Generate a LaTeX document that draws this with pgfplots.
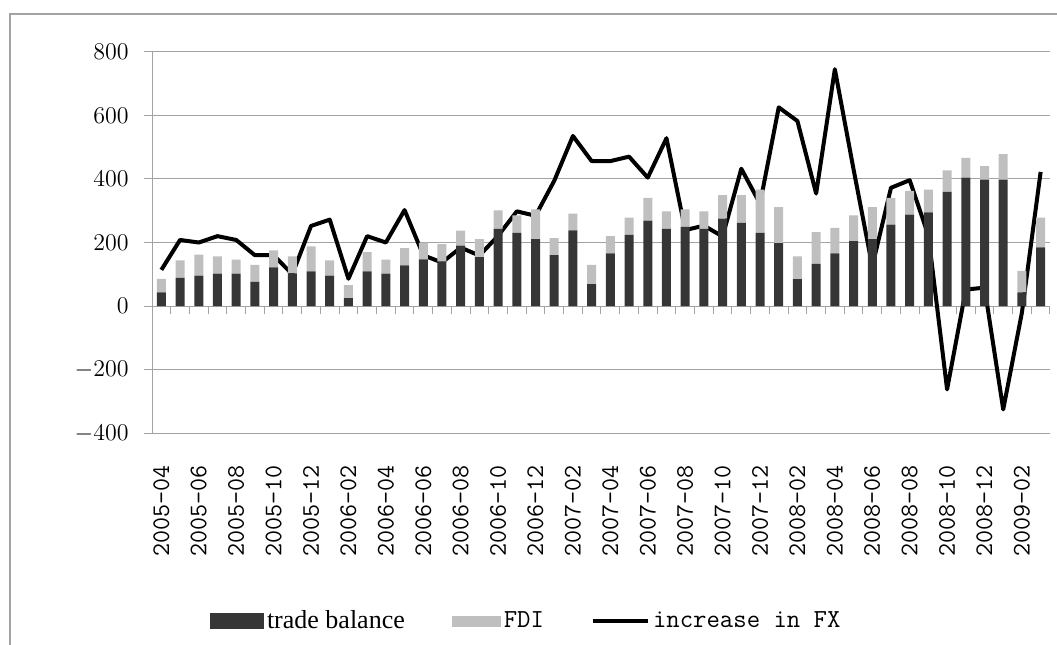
\documentclass[border=0pt]{standalone}
\usepackage{fontspec}
\setmainfont{Liberation Serif}
\usepackage{pgfplots}
\usepackage{pgfplotstable}
\pgfplotsset{compat=1.18}
\definecolor{tbc}{HTML}{363636}
\definecolor{fdic}{HTML}{BFBFBF}
\definecolor{gridc}{HTML}{A3A3A3}
\pgfplotstableread{
k tb fdi fx
1 43 43 114
2 89 55 208
3 96 66 200
4 102 54 220
5 102 44 208
6 76 54 160
7 122 53 160
8 103 53 100
9 109 79 252
10 96 48 272
11 25 41 86
12 109 61 220
13 102 44 200
14 128 54 302
15 147 53 160
16 140 55 137
17 190 47 184
18 154 57 159
19 243 58 221
20 230 55 298
21 211 93 284
22 160 54 394
23 238 53 535
24 69 61 456
25 166 54 456
26 224 54 470
27 269 71 404
28 243 55 528
29 249 55 239
30 243 55 253
31 275 74 219
32 262 87 432
33 230 136 322
34 198 113 625
35 85 71 582
36 133 100 354
37 166 80 745
38 204 81 430
39 211 100 125
40 256 84 372
41 288 74 396
42 295 71 222
43 359 68 -262
44 404 62 52
45 398 42 58
46 398 80 -325
47 43 68 -20
48 185 93 422
}\datatable
\begin{document}
\begin{tikzpicture}
\useasboundingbox (0,0) rectangle (528.5pt,322pt);
\draw[gridc, line width=1pt] (5pt,-20pt) -- (5pt,315pt) -- (560pt,315pt);
\begin{axis}[
  at={(76pt,105.35pt)}, anchor=south west,
  scale only axis, width=449pt, height=190.8pt,
  xmin=0.5, xmax=48.5, ymin=-400, ymax=800,
  enlargelimits=false,
  ybar stacked, bar width=0.48,
  axis x line*=bottom, axis y line*=left,
  x axis line style={draw=none},
  y axis line style={gridc, line width=0.5pt},
  ytick={-400,-200,...,800},
  ymajorgrids, grid style={gridc, line width=0.5pt},
  ytick style={gridc, line width=0.5pt},
  tick align=outside, major tick length=4pt,
  xtick style={draw=none},
  xtick={1,3,...,47},
  xticklabels={2005\textendash04,2005\textendash06,2005\textendash08,2005\textendash10,2005\textendash12,2006\textendash02,2006\textendash04,2006\textendash06,2006\textendash08,2006\textendash10,2006\textendash12,2007\textendash02,2007\textendash04,2007\textendash06,2007\textendash08,2007\textendash10,2007\textendash12,2008\textendash02,2008\textendash04,2008\textendash06,2008\textendash08,2008\textendash10,2008\textendash12,2009\textendash02},
  xticklabel style={rotate=90, anchor=east, inner sep=0pt, font=\ttfamily\fontsize{12.65}{14}\selectfont},
  xticklabel shift=11.7pt,
  yticklabel style={anchor=east, inner sep=0pt, font=\fontsize{12.8}{15}\selectfont},
  yticklabel shift=7.5pt,
  legend columns=3,
  legend style={at={(0.0646,-0.492)}, anchor=west, draw=none, fill=none,
    inner sep=0pt, outer sep=0pt,
    font=\fontsize{13}{15}\selectfont,
    /tikz/every even column/.append style={column sep=22pt},
    nodes={inner sep=1.5pt}},
  legend cell align=left,
]
\addplot[fill=tbc, draw=none,
  legend image code/.code={\fill[tbc] (0pt,-4pt) rectangle (27pt,4pt);}]
  table[x=k, y=tb]{\datatable};
\addlegendentry{trade balance}
\addplot[fill=fdic, draw=none,
  legend image code/.code={\fill[fdic] (0pt,-2.75pt) rectangle (24.5pt,2.75pt);}]
  table[x=k, y=fdi]{\datatable};
\addlegendentry{\ttfamily FDI}
\addplot[sharp plot, stack plots=false, black, line width=2pt, line join=round, mark=none,
  legend image code/.code={\draw[black, line width=2pt] (0pt,0pt) -- (27.5pt,0pt);}]
  table[x=k, y=fx]{\datatable};
\addlegendentry{\ttfamily increase in FX}
\pgfplotsinvokeforeach{1.5,2.5,...,48.5}{\draw[gridc, line width=0.5pt] (axis cs:#1,0) -- ++(0pt,-3.75pt);}
\end{axis}
\end{tikzpicture}
\end{document}
